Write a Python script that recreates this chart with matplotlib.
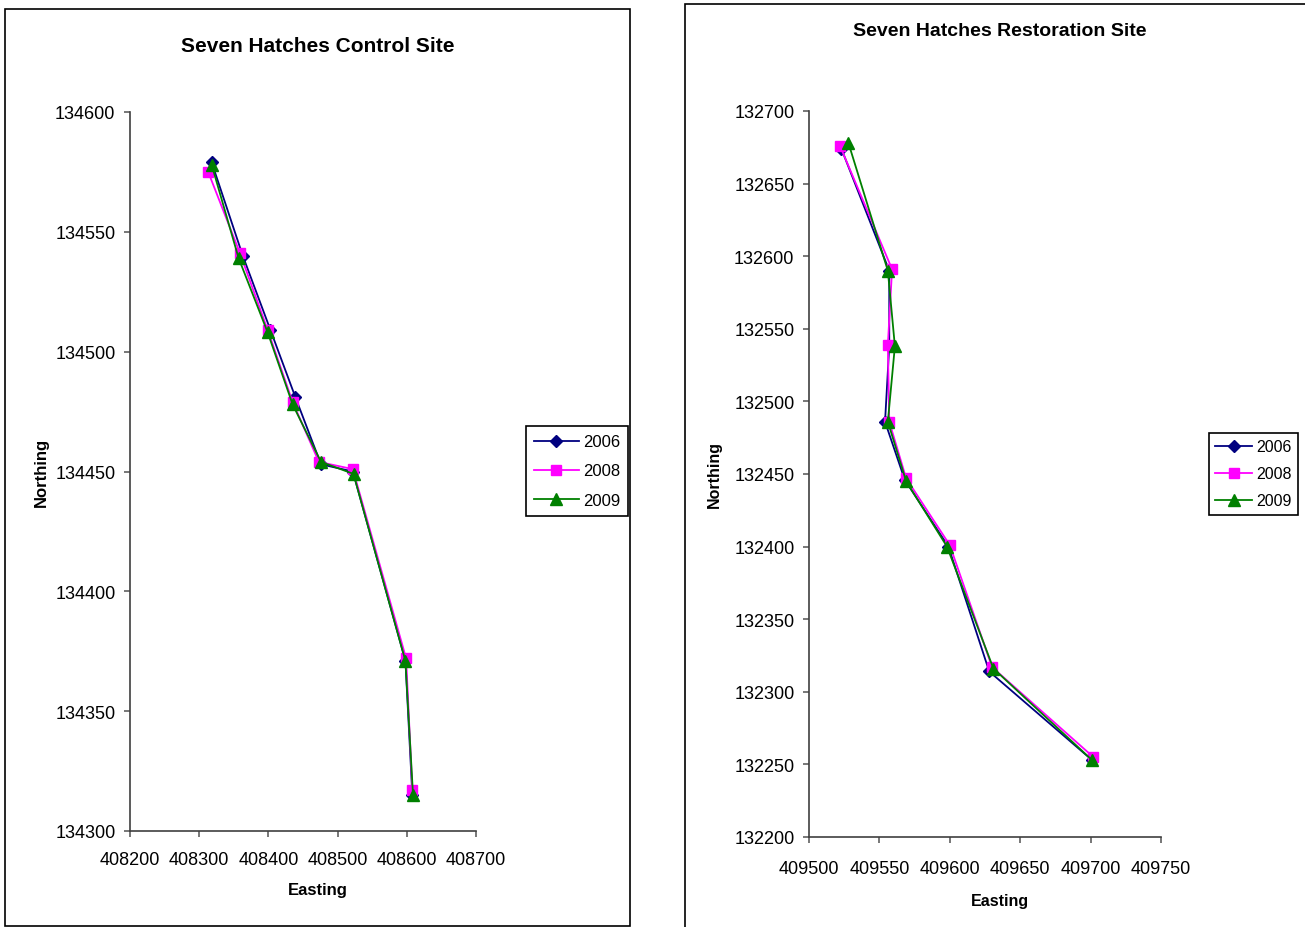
import matplotlib
matplotlib.use("Agg")
import matplotlib.pyplot as plt
from matplotlib.patches import Rectangle

plt.rcParams["font.family"] = ["Liberation Sans", "DejaVu Sans"]

years = ["2006", "2008", "2009"]
colors = ["#000080", "#FF00FF", "#008000"]
markers = ["D", "s", "^"]
msizes = [6, 6.5, 8]

# Control site (Easting, Northing) per survey year
control_e_2006 = [408318, 408363, 408403, 408439, 408476, 408522, 408598, 408608]
control_n_2006 = [134579, 134540, 134509, 134481, 134453, 134450, 134371, 134315]
control_e_2008 = [408313, 408359, 408399, 408435, 408473, 408522, 408599, 408608]
control_n_2008 = [134575, 134541, 134509, 134479, 134454, 134451, 134372, 134317]
control_e_2009 = [408318, 408357, 408399, 408435, 408476, 408523, 408598, 408609]
control_n_2009 = [134578, 134539, 134508, 134478, 134454, 134449, 134371, 134315]

# Restoration site
resto_e_2006 = [409523, 409557, 409557, 409554, 409568, 409599, 409628, 409701]
resto_n_2006 = [132674, 132590, 132538, 132486, 132446, 132400, 132314, 132253]
resto_e_2008 = [409522, 409559, 409556, 409557, 409569, 409600, 409630, 409702]
resto_n_2008 = [132676, 132591, 132539, 132486, 132447, 132401, 132317, 132255]
resto_e_2009 = [409528, 409556, 409561, 409556, 409569, 409598, 409631, 409701]
resto_n_2009 = [132678, 132590, 132538, 132486, 132445, 132400, 132316, 132253]

control_xticks = [408200, 408300, 408400, 408500, 408600, 408700]
control_yticks = [134300, 134350, 134400, 134450, 134500, 134550, 134600]
resto_xticks = [409500, 409550, 409600, 409650, 409700, 409750]
resto_yticks = [132200, 132250, 132300, 132350, 132400, 132450, 132500,
                132550, 132600, 132650, 132700]

W, H = 1305, 928
fig = plt.figure(figsize=(W / 100, H / 100), dpi=100)


def px_rect(x0, y0, x1, y1):
    # pixel box (top-left origin) -> figure fraction [l, b, w, h]
    return [x0 / W, 1 - y1 / H, (x1 - x0) / W, (y1 - y0) / H]


def draw_panel(rect, series, xticks, yticks, title, title_xy, tick_fs,
               title_fs, lab_fs, leg_xy, leg_opts, xlab_y, ylab_x, xpad):
    ax = fig.add_axes(px_rect(*rect))
    for (e, n), yr, c, m, ms in zip(series, years, colors, markers, msizes):
        ax.plot(e, n, color=c, marker=m, markersize=ms, lw=1.3,
                markeredgecolor=c, label=yr)
    ax.set_xlim(xticks[0], xticks[-1])
    ax.set_ylim(yticks[0], yticks[-1])
    ax.set_xticks(xticks)
    ax.set_yticks(yticks)
    ax.ticklabel_format(useOffset=False, style="plain")
    for s in ["top", "right"]:
        ax.spines[s].set_visible(False)
    for s in ["left", "bottom"]:
        ax.spines[s].set_color("#404040")
        ax.spines[s].set_linewidth(1.2)
    ax.tick_params(axis="both", direction="out", length=4.5, width=1.2,
                   color="#606060", labelsize=tick_fs)
    ax.tick_params(axis="y", pad=6)
    ax.tick_params(axis="x", pad=xpad)
    fig.text(title_xy[0] / W, 1 - title_xy[1] / H, title, ha="center",
             va="center", fontsize=title_fs, fontweight="bold")
    fig.text(title_xy[0] / W, 1 - xlab_y / H, "Easting", ha="center",
             va="center", fontsize=lab_fs, fontweight="bold")
    fig.text(ylab_x / W, 1 - (rect[1] + rect[3]) / 2 / H, "Northing",
             ha="center", va="center", rotation=90, fontsize=lab_fs,
             fontweight="bold")
    leg = ax.legend(loc="upper left", bbox_to_anchor=(leg_xy[0] / W, 1 - leg_xy[1] / H),
                    bbox_transform=fig.transFigure, borderaxespad=0,
                    fancybox=False, framealpha=1, edgecolor="black",
                    handletextpad=0.25, **leg_opts)
    leg.get_frame().set_linewidth(1.2)
    return ax


# chart-area frames
fig.patches.append(Rectangle((5 / W, 1 / H), 625 / W, 917 / H,
                             transform=fig.transFigure, fill=False,
                             edgecolor="black", lw=1.2))
fig.patches.append(Rectangle((685 / W, -0.01), 0.5, 1 - 5 / H + 0.01,
                             transform=fig.transFigure, fill=False,
                             edgecolor="black", lw=1.2))

draw_panel((130, 113, 476, 832),
           [(control_e_2006, control_n_2006), (control_e_2008, control_n_2008),
            (control_e_2009, control_n_2009)],
           control_xticks, control_yticks, "Seven Hatches Control Site",
           (318, 46), 13, 15, 12, (526, 427),
           dict(fontsize=12, handlelength=2.65, labelspacing=0.85, borderpad=0.5),
           891, 41, 10)

draw_panel((809, 112, 1161, 838),
           [(resto_e_2006, resto_n_2006), (resto_e_2008, resto_n_2008),
            (resto_e_2009, resto_n_2009)],
           resto_xticks, resto_yticks, "Seven Hatches Restoration Site",
           (1000, 31), 13, 14, 11.5, (1209, 434),
           dict(fontsize=11.5, handlelength=2.3, labelspacing=0.75, borderpad=0.4),
           902, 714, 12)

fig.savefig("out.png", dpi=100)
